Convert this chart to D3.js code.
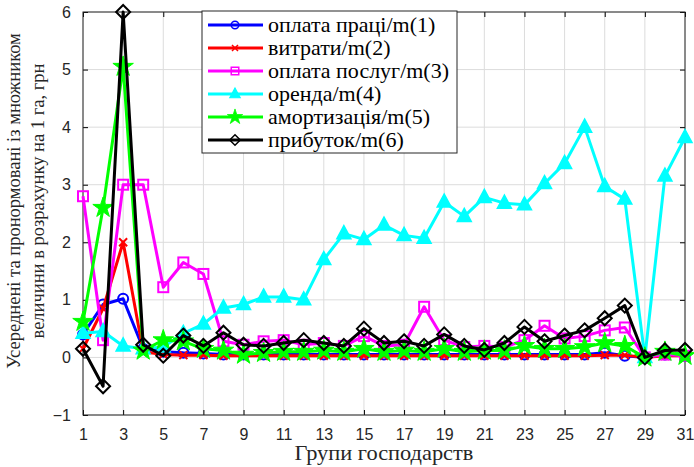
<!DOCTYPE html>
<html>
<head>
<meta charset="utf-8">
<script src="https://cdn.jsdelivr.net/npm/d3@7"></script>
<style>
  body { margin: 0; background: #fff; }
  svg { display: block; }
  .serif { font-family: "Liberation Serif", "DejaVu Serif", "Times New Roman", serif; }
  .sans { font-family: "Liberation Sans", Arial, sans-serif; }
</style>
</head>
<body>
<div id="chart"></div>
<script>
const groups = d3.range(1, 32);
const xTicks = d3.range(1, 32, 2);
const yTicks = [-1, 0, 1, 2, 3, 4, 5, 6];

const labour = [0.4, 0.92, 1.02, 0.15, 0.1, 0.08, 0.07, 0.05, 0.05, 0.05, 0.05, 0.05, 0.05, 0.05, 0.05, 0.05, 0.05, 0.05, 0.05, 0.05, 0.05, 0.05, 0.05, 0.05, 0.05, 0.05, 0.08, 0.03, 0, 0.05, 0.03];
const costs = [0.15, 0.85, 2.0, 0.1, 0.05, 0.04, 0.04, 0.03, 0.03, 0.03, 0.03, 0.03, 0.03, 0.03, 0.03, 0.03, 0.03, 0.03, 0.03, 0.03, 0.03, 0.03, 0.03, 0.03, 0.03, 0.03, 0.04, 0.04, 0, 0.03, 0.03];
const services = [2.8, 0.3, 3.0, 3.0, 1.22, 1.65, 1.45, 0.28, 0.22, 0.28, 0.3, 0.22, 0.25, 0.2, 0.37, 0.2, 0.22, 0.88, 0.3, 0.18, 0.2, 0.18, 0.3, 0.55, 0.33, 0.37, 0.47, 0.52, 0, 0.05, 0.03];
const rent = [0.42, 0.45, 0.2, 0.15, 0.18, 0.42, 0.58, 0.86, 0.92, 1.05, 1.05, 1.0, 1.7, 2.15, 2.05, 2.3, 2.12, 2.07, 2.7, 2.45, 2.78, 2.68, 2.65, 3.02, 3.37, 4.0, 2.97, 2.75, 0, 3.15, 3.82];
const deprec = [0.62, 2.6, 5.05, 0.12, 0.3, 0.28, 0.15, 0.12, 0.05, 0.08, 0.1, 0.1, 0.12, 0.1, 0.15, 0.1, 0.12, 0.1, 0.15, 0.1, 0.12, 0.12, 0.2, 0.15, 0.15, 0.18, 0.25, 0.2, 0, 0.1, 0.03];
const profit = [0.15, -0.5, 6.0, 0.22, 0.03, 0.38, 0.2, 0.43, 0.22, 0.2, 0.25, 0.3, 0.25, 0.2, 0.5, 0.25, 0.28, 0.2, 0.4, 0.2, 0.13, 0.25, 0.53, 0.28, 0.38, 0.47, 0.68, 0.9, 0, 0.12, 0.13];

const seriesNames = ["оплата праці/m(1)", "витрати/m(2)", "оплата послуг/m(3)", "оренда/m(4)", "амортизація/m(5)", "прибуток/m(6)"];

const series = [
  { name: seriesNames[0], values: labour, color: "#0000ff", marker: "circle" },
  { name: seriesNames[1], values: costs, color: "#ff0000", marker: "x" },
  { name: seriesNames[2], values: services, color: "#ff00ff", marker: "square" },
  { name: seriesNames[3], values: rent, color: "#00ffff", marker: "triangle" },
  { name: seriesNames[4], values: deprec, color: "#00ff00", marker: "star" },
  { name: seriesNames[5], values: profit, color: "#000000", marker: "diamond" }
];

const W = 694, H = 467;
const margin = { top: 12, right: 9, bottom: 52, left: 83 };
const width = W - margin.left - margin.right,
      height = H - margin.top - margin.bottom;

const svg = d3.select("#chart").append("svg")
  .attr("width", W).attr("height", H);
const g = svg.append("g").attr("transform", `translate(${margin.left},${margin.top})`);

const x = d3.scaleLinear().domain([1, 31]).range([0, width]);
const y = d3.scaleLinear().domain([-1, 6]).range([height, 0]);

// grid
g.append("g").selectAll("line").data(xTicks).join("line")
  .attr("x1", d => x(d)).attr("x2", d => x(d))
  .attr("y1", 0).attr("y2", height)
  .attr("stroke", "#dcdcdc").attr("stroke-width", 1);
g.append("g").selectAll("line").data(yTicks).join("line")
  .attr("x1", 0).attr("x2", width)
  .attr("y1", d => y(d)).attr("y2", d => y(d))
  .attr("stroke", "#dcdcdc").attr("stroke-width", 1);

// axes
const tickFont = a => a.attr("font-family", null).attr("font-size", null)
  .attr("class", "sans").style("font-size", "16px")
  .selectAll("text").attr("fill", "#262626");

g.append("g").attr("transform", `translate(0,${height})`)
  .call(d3.axisBottom(x).tickValues(xTicks).tickFormat(d3.format("d")).tickSizeInner(-5).tickSizeOuter(0).tickPadding(14))
  .call(tickFont)
  .call(a => a.select(".domain").remove());
g.append("g")
  .call(d3.axisLeft(y).tickValues(yTicks).tickFormat(d3.format("d")).tickSizeInner(-5).tickSizeOuter(0).tickPadding(12))
  .call(tickFont)
  .call(a => a.select(".domain").remove());
g.append("g")
  .call(d3.axisTop(x).tickValues(xTicks).tickFormat("").tickSizeInner(-5).tickSizeOuter(0))
  .call(a => a.select(".domain").remove());
g.append("g").attr("transform", `translate(${width},0)`)
  .call(d3.axisRight(y).tickValues(yTicks).tickFormat("").tickSizeInner(-5).tickSizeOuter(0))
  .call(a => a.select(".domain").remove());

g.append("rect").attr("width", width).attr("height", height)
  .attr("fill", "none").attr("stroke", "#262626").attr("stroke-width", 1);

// markers
function drawMarker(sel, type, color) {
  if (type === "circle") {
    sel.append("circle").attr("r", 5).attr("fill", "none").attr("stroke", color).attr("stroke-width", 2);
  } else if (type === "x") {
    sel.append("path").attr("d", "M-4,-4L4,4M-4,4L4,-4").attr("stroke", color).attr("stroke-width", 2);
  } else if (type === "square") {
    sel.append("rect").attr("x", -5).attr("y", -5).attr("width", 10).attr("height", 10)
      .attr("fill", "none").attr("stroke", color).attr("stroke-width", 2);
  } else if (type === "triangle") {
    sel.append("path").attr("d", "M0,-8L7,5L-7,5Z").attr("fill", color).attr("stroke", color).attr("stroke-width", 1.5);
  } else if (type === "star") {
    sel.append("path").attr("d", d3.symbol(d3.symbolStar, 130)()).attr("fill", color).attr("stroke", color).attr("stroke-width", 1);
  } else if (type === "diamond") {
    sel.append("path").attr("d", "M0,-7L7,0L0,7L-7,0Z").attr("fill", "none").attr("stroke", color).attr("stroke-width", 2);
  }
}

const line = d3.line().x((d, i) => x(groups[i])).y(d => y(d));

series.forEach(s => {
  const sg = g.append("g");
  sg.append("path").datum(s.values).attr("d", line)
    .attr("fill", "none").attr("stroke", s.color).attr("stroke-width", 3)
    .attr("stroke-linejoin", "round");
  sg.selectAll("g.m").data(s.values).join("g").attr("class", "m")
    .attr("transform", (d, i) => `translate(${x(groups[i])},${y(d)})`)
    .each(function() { drawMarker(d3.select(this), s.marker, s.color); });
});

// legend
const lg = svg.append("g").attr("transform", "translate(202,11)");
lg.append("rect").attr("width", 255).attr("height", 142)
  .attr("fill", "#fff").attr("stroke", "#262626").attr("stroke-width", 1);
series.forEach((s, i) => {
  const row = lg.append("g").attr("transform", `translate(0,${14 + i * 23})`);
  row.append("line").attr("x1", 6).attr("x2", 61).attr("y1", 0).attr("y2", 0)
    .attr("stroke", s.color).attr("stroke-width", 3);
  drawMarker(row.append("g").attr("transform", "translate(33,0) scale(0.75)"), s.marker, s.color);
  row.append("text").attr("class", "serif")
    .attr("transform", "translate(66,6.5) scale(1.1,1)")
    .style("font-size", "20px").attr("fill", "#000").text(s.name);
});

// axis titles
svg.append("text").attr("class", "serif")
  .attr("transform", `translate(${margin.left + width / 2},460) scale(1.12,1)`)
  .attr("text-anchor", "middle")
  .style("font-size", "20px").attr("fill", "#262626")
  .text("Групи господарств");

const yl = svg.append("text").attr("class", "serif")
  .attr("transform", "translate(0,201) rotate(-90)")
  .attr("text-anchor", "middle")
  .style("font-size", "18.5px").attr("fill", "#262626");
yl.append("tspan").attr("x", 0).attr("y", 20).text("Усереднені та пронормовані із множником");
yl.append("tspan").attr("x", 0).attr("y", 44).text("величини в розрахунку на 1 га, грн");
</script>
</body>
</html>
